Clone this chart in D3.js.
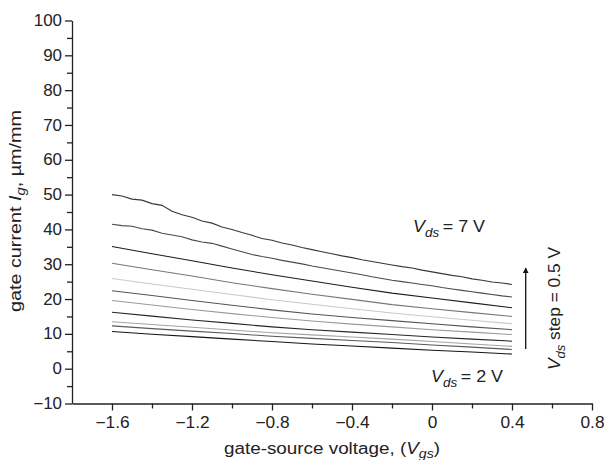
<!DOCTYPE html>
<html lang="en">
<head>
  <title>Gate current vs gate-source voltage</title>
  <meta charset="utf-8"/>
  <script src="https://d3js.org/d3.v7.min.js"></script>
  <style>
    body { margin: 0; background: #fff; }
    text {
      font-family: "Liberation Sans", Arial, Helvetica, sans-serif;
      font-size: 16px;
      fill: #222;
    }
    .domain, .tick line { stroke: #222; stroke-width: 1.3; }
  </style>
</head>
<body>
<svg id="chart" width="604" height="460"></svg>

<script>
  // gate-source voltage (V)
  const vgsFine = [-1.6, -1.55, -1.5, -1.45, -1.4, -1.35, -1.3, -1.25, -1.2, -1.15, -1.1, -1.05, -1.0, -0.95,
    -0.9, -0.85, -0.8, -0.75, -0.7, -0.65, -0.6, -0.55, -0.5, -0.45, -0.4, -0.35, -0.3, -0.25, -0.2, -0.15,
    -0.1, -0.05, 0, 0.05, 0.1, 0.15, 0.2, 0.25, 0.3, 0.35, 0.4];
  const vgs = [-1.6, -1.4, -1.2, -1.0, -0.8, -0.6, -0.4, -0.2, 0, 0.2, 0.4];

  // gate current for each Vds (top curves are noisier, so read more finely)
  const ig70 = [50.0, 49.6, 48.7, 48.4, 47.4, 46.9, 45.2, 44.2, 43.5, 42.4, 41.8, 40.7, 40.0, 39.1, 38.3,
    37.4, 36.9, 36.1, 35.5, 34.8, 34.2, 33.6, 33.0, 32.4, 31.9, 31.3, 30.8, 30.3, 29.8, 29.3, 28.9, 28.3,
    27.8, 27.3, 26.8, 26.4, 25.8, 25.4, 24.9, 24.6, 24.2];
  const ig65 = [41.5, 41.1, 40.9, 40.2, 39.8, 38.9, 38.4, 37.9, 37.0, 36.4, 36.0, 35.2, 34.4, 33.6, 32.8,
    32.2, 31.7, 31.1, 30.6, 30.1, 29.5, 29.0, 28.5, 28.0, 27.5, 27.0, 26.4, 25.9, 25.4, 25.0, 24.6, 24.2,
    23.8, 23.3, 22.9, 22.5, 22.1, 21.7, 21.3, 20.9, 20.6];
  const ig60 = [35.1, 33.0, 31.0, 28.9, 27.0, 25.2, 23.4, 21.7, 20.3, 18.9, 17.5];
  const ig55 = [30.3, 28.4, 26.6, 24.7, 23.0, 21.4, 19.9, 18.4, 17.2, 16.1, 15.0];
  const ig50 = [25.9, 24.3, 22.8, 21.3, 19.8, 18.5, 17.2, 16.0, 14.9, 13.9, 12.9];
  const ig45 = [22.4, 21.0, 19.6, 18.2, 16.9, 15.7, 14.7, 13.8, 12.9, 12.0, 11.2];
  const ig40 = [19.6, 18.3, 17.0, 15.8, 14.7, 13.7, 12.8, 12.0, 11.2, 10.5, 9.8];
  const ig35 = [16.2, 15.1, 14.0, 13.0, 12.0, 11.2, 10.5, 9.8, 9.1, 8.5, 7.9];
  const ig30 = [13.5, 12.7, 11.9, 11.1, 10.3, 9.7, 9.1, 8.5, 7.8, 7.1, 6.4];
  const ig25 = [12.3, 11.5, 10.8, 10.1, 9.3, 8.7, 8.1, 7.5, 6.8, 6.2, 5.5];
  const ig20 = [10.7, 9.9, 9.2, 8.5, 7.8, 7.1, 6.5, 5.9, 5.3, 4.8, 4.2];

  const xMajor = [-1.6, -1.2, -0.8, -0.4, 0, 0.4, 0.8];
  const xMinor = [-1.4, -1.0, -0.6, -0.2, 0.2, 0.6];
  const yMajor = [-10, 0, 10, 20, 30, 40, 50, 60, 70, 80, 90, 100];
  const yMinor = [-5, 5, 15, 25, 35, 45, 55, 65, 75, 85, 95];

  const curves = [
    {x: vgsFine, y: ig70, color: "#383838"},
    {x: vgsFine, y: ig65, color: "#4a4a4a"},
    {x: vgs, y: ig60, color: "#1c1c1c"},
    {x: vgs, y: ig55, color: "#777777"},
    {x: vgs, y: ig50, color: "#c9c9c9"},
    {x: vgs, y: ig45, color: "#555555"},
    {x: vgs, y: ig40, color: "#9a9a9a"},
    {x: vgs, y: ig35, color: "#262626"},
    {x: vgs, y: ig30, color: "#a3a3a3"},
    {x: vgs, y: ig25, color: "#5a5a5a"},
    {x: vgs, y: ig20, color: "#161616"}
  ];

  const svg = d3.select("#chart");

  const x = d3.scaleLinear().domain([-1.8, 0.8]).range([72, 592]);
  const y = d3.scaleLinear().domain([-10, 100]).range([403.5, 20.5]);

  // stretch text a bit, the original font is wider than Arial
  function widen(sel, k) {
    sel.each(function () {
      const w = this.getComputedTextLength();
      d3.select(this).attr("textLength", w * k).attr("lengthAdjust", "spacingAndGlyphs");
    });
  }

  // minor ticks first, then the labelled axes on top
  svg.append("g")
          .attr("transform", `translate(0,${y(-10)})`)
          .call(d3.axisBottom(x).tickValues(xMinor).tickSize(5).tickFormat(""))
          .call(g => g.select(".domain").remove());
  svg.append("g")
          .attr("transform", `translate(${x(-1.8)},0)`)
          .call(d3.axisLeft(y).tickValues(yMinor).tickSize(5).tickFormat(""))
          .call(g => g.select(".domain").remove());

  const fmtX = d => d === 0 ? "0" : d3.format(".1f")(d);

  const xAxis = svg.append("g")
          .attr("transform", `translate(0,${y(-10)})`)
          .call(d3.axisBottom(x).tickValues(xMajor).tickSize(7).tickPadding(6).tickSizeOuter(0).tickFormat(fmtX));
  const yAxis = svg.append("g")
          .attr("transform", `translate(${x(-1.8)},0)`)
          .call(d3.axisLeft(y).tickValues(yMajor).tickSize(7).tickPadding(3).tickSizeOuter(0).tickFormat(d3.format("d")));

  xAxis.selectAll("text").attr("fill", "#222").style("font-size", "16px");
  yAxis.selectAll("text").attr("fill", "#222").style("font-size", "16px");
  widen(xAxis.selectAll("text"), 1.08);
  widen(yAxis.selectAll("text"), 1.06);

  // the curves
  const line = d3.line()
          .x(d => x(d[0]))
          .y(d => y(d[1]));

  svg.append("g")
          .selectAll("path")
          .data(curves)
          .enter()
          .append("path")
          .attr("d", c => line(c.x.map((v, i) => [v, c.y[i]])))
          .attr("fill", "none")
          .attr("stroke", c => c.color)
          .attr("stroke-width", 1.1);

  // axis titles
  const xTitle = svg.append("text")
          .attr("x", 332)
          .attr("y", 454)
          .attr("text-anchor", "middle");
  xTitle.append("tspan").text("gate-source voltage, (");
  xTitle.append("tspan").style("font-style", "italic").text("V");
  xTitle.append("tspan").attr("dy", 4).style("font-size", "12px").style("font-style", "italic").text("gs");
  xTitle.append("tspan").attr("dy", -4).text(")");
  xTitle.attr("textLength", 216).attr("lengthAdjust", "spacingAndGlyphs");

  const yTitle = svg.append("text")
          .attr("transform", "translate(21,211) rotate(-90)")
          .attr("text-anchor", "middle");
  yTitle.append("tspan").text("gate current ");
  yTitle.append("tspan").style("font-style", "italic").text("I");
  yTitle.append("tspan").attr("dy", 4).style("font-size", "12px").style("font-style", "italic").text("g");
  yTitle.append("tspan").attr("dy", -4).text(", \u00b5m/mm");
  yTitle.attr("textLength", 202).attr("lengthAdjust", "spacingAndGlyphs");

  // Vds annotations
  function vdsLabel(sel, rest) {
    sel.append("tspan").style("font-style", "italic").text("V");
    sel.append("tspan").attr("dy", 5).style("font-size", "12px").style("font-style", "italic").text("ds");
    sel.append("tspan").attr("dy", -5).text(rest);
  }

  const labelHigh = svg.append("text").attr("x", 413).attr("y", 231.5);
  vdsLabel(labelHigh, "\u2009= 7 V");
  labelHigh.attr("textLength", 72).attr("lengthAdjust", "spacingAndGlyphs");

  const labelLow = svg.append("text").attr("x", 431).attr("y", 381.5);
  vdsLabel(labelLow, "\u2009= 2 V");
  labelLow.attr("textLength", 72).attr("lengthAdjust", "spacingAndGlyphs");

  const labelStep = svg.append("text").attr("transform", "translate(560,370) rotate(-90)");
  vdsLabel(labelStep, " step = 0.5 V");
  labelStep.attr("textLength", 123).attr("lengthAdjust", "spacingAndGlyphs");

  // arrow for increasing Vds
  svg.append("defs").append("marker")
          .attr("id", "head")
          .attr("viewBox", "0 0 10 10")
          .attr("refX", 9).attr("refY", 5)
          .attr("markerWidth", 6).attr("markerHeight", 9)
          .attr("markerUnits", "userSpaceOnUse")
          .attr("orient", "auto")
          .append("path")
          .attr("d", "M0,0 L10,5 L0,10 Z")
          .attr("fill", "#111");

  svg.append("line")
          .attr("x1", 525.7).attr("y1", 349)
          .attr("x2", 525.7).attr("y2", 268)
          .attr("stroke", "#111")
          .attr("stroke-width", 1.3)
          .attr("marker-end", "url(#head)");
</script>
</body>
</html>
